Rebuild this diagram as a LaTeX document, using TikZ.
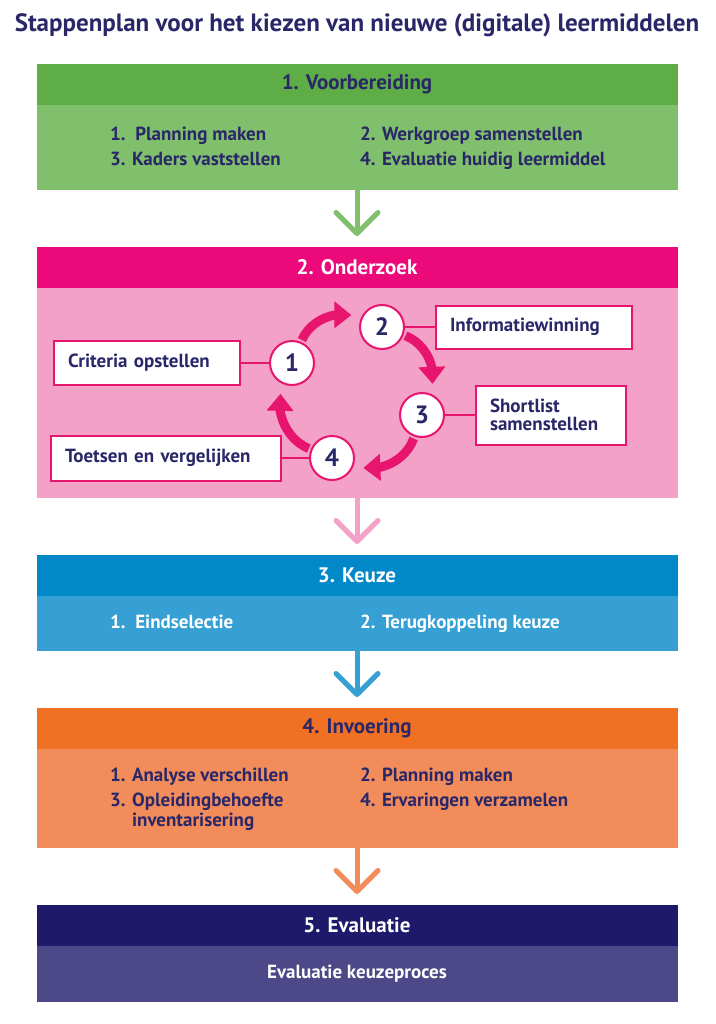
\documentclass[tikz,border=0pt]{standalone}
\usepackage{fontspec}
\setmainfont{PT Sans}
\usetikzlibrary{positioning,arrows.meta,bending}

\definecolor{inkt}{HTML}{2A2768}
\definecolor{vbhead}{HTML}{5FAD46}
\definecolor{vbbody}{HTML}{80BF6B}
\definecolor{ozhead}{HTML}{EC0A7A}
\definecolor{ozbody}{HTML}{F4A1C7}
\definecolor{kzhead}{HTML}{0088C8}
\definecolor{kzbody}{HTML}{369FD3}
\definecolor{ivhead}{HTML}{F07124}
\definecolor{ivbody}{HTML}{F38C5B}
\definecolor{evhead}{HTML}{1E196A}
\definecolor{evbody}{HTML}{4D4887}
\definecolor{cyc}{HTML}{E8156F}

\begin{document}
\begin{tikzpicture}[x=1pt,y=1pt,
    head/.style={fill=#1, minimum width=641pt, minimum height=41pt, inner sep=0pt, outer sep=0pt,
                 font=\fontsize{21}{22}\selectfont\bfseries},
    body/.style={fill=#1, minimum width=641pt, inner sep=0pt, outer sep=0pt},
    item/.style={anchor=base west, inner sep=0pt, font=\fontsize{19}{20}\selectfont\bfseries},
    flow/.style={line width=5pt, -{Straight Barb[length=21pt,width=42pt,round]}, shorten >=11pt},
    stap/.style={circle, draw=cyc, line width=2pt, fill=white, minimum size=44pt, inner sep=0pt,
                 text=inkt, font=\fontsize{25}{25}\selectfont\bfseries},
    kader/.style={draw=cyc, line width=2pt, fill=white, inner xsep=14pt, inner ysep=0pt, align=left,
                  text=inkt, font=\fontsize{19}{17.5}\selectfont\bfseries},
    link/.style={draw=cyc, line width=2pt},
    rond/.style={draw=cyc, line width=9pt, shorten <=2pt, shorten >=10pt,
                 -{Triangle[width=26pt,length=17pt]}}]
    \useasboundingbox (0,0) rectangle (715,-1024);

    \node[text=inkt, font=\fontsize{25}{26}\selectfont\bfseries] (titel) at (357,-25.5)
        {Stappenplan voor het kiezen van nieuwe (digitale) leermiddelen};

    % de vijf fasen
    \node[head=vbhead, text=inkt] (h1) at (357,-84.5) {1. Voorbereiding};
    \node[body=vbbody, minimum height=85pt, below=0pt of h1] (b1) {};
    \node[head=ozhead, text=white, below=57pt of b1] (h2) {2. Onderzoek};
    \node[body=ozbody, minimum height=210pt, below=0pt of h2] (b2) {};
    \node[head=kzhead, text=white, below=57pt of b2] (h3) {3. Keuze};
    \node[body=kzbody, minimum height=55pt, below=0pt of h3] (b3) {};
    \node[head=ivhead, text=inkt, below=57pt of b3] (h4) {4. Invoering};
    \node[body=ivbody, minimum height=99pt, below=0pt of h4] (b4) {};
    \node[head=evhead, text=white, below=57pt of b4] (h5) {5. Evaluatie};
    \node[body=evbody, minimum height=56pt, below=0pt of h5, text=white,
          font=\fontsize{19}{20}\selectfont\bfseries] (b5) {Evaluatie keuzeproces};

    \foreach \a/\b/\c in {b1/h2/vbbody, b2/h3/ozbody, b3/h4/kzbody, b4/h5/ivbody}
        \draw[flow, draw=\c] (\a) -- (\b);

    % punten per fase
    \foreach \n/\x/\y/\t in {v1/110/140.7/{1.\ \ Planning maken}, v2/360/140.7/{2. Werkgroep samenstellen},
                             v3/110/165.7/{3. Kaders vaststellen}, v4/360/165.7/{4. Evaluatie huidig leermiddel},
                             i1/110/781.7/{1. Analyse verschillen}, i2/360/781.7/{2. Planning maken},
                             i3/110/806.7/{\vtop{\hbox{3. Opleidingbehoefte}\hbox{\phantom{3. }inventarisering}}},
                             i4/360/806.7/{4. Ervaringen verzamelen}}
        \node[item, text=inkt] (\n) at (\x,-\y) {\t};
    \foreach \n/\x/\t in {k1/110/{1.\ \ Eindselectie}, k2/360/{2. Terugkoppeling keuze}}
        \node[item, text=white] (\n) at (\x,-628.7) {\t};

    % onderzoekscyclus
    \node[stap] (c1) at (292,-363) {1};
    \node[stap] (c2) at (382,-327) {2};
    \node[stap] (c3) at (422,-415) {3};
    \node[stap] (c4) at (332,-458) {4};

    \node[kader, text width=158pt, minimum height=44pt, left=28pt of c1] (crit) {Criteria opstellen};
    \node[kader, text width=168pt, minimum height=43pt, right=30pt of c2] (info) {Informatiewinning};
    \node[kader, text width=122pt, minimum height=59pt, right=30pt of c3] (short) {Shortlist\\samenstellen};
    \node[kader, text width=202pt, minimum height=45pt, left=27pt of c4] (toets) {Toetsen en vergelijken};

    \foreach \a/\b in {c1/crit, c2/info, c3/short, c4/toets}
        \draw[link] (\a) -- (\b);
    \foreach \a/\b in {c1/c2, c2/c3, c3/c4, c4/c1}
        \draw[rond] (\a) to[bend left=45] (\b);
\end{tikzpicture}
\end{document}
